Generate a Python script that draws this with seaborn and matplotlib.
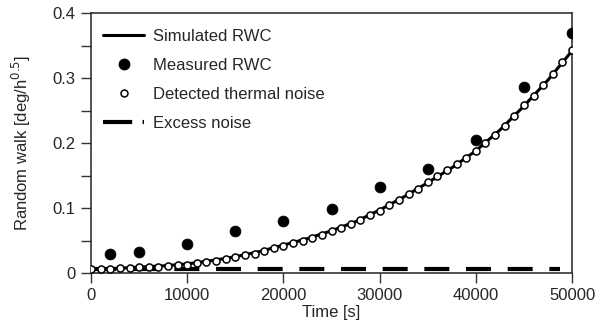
import matplotlib
matplotlib.use("Agg")
import matplotlib.pyplot as plt
import seaborn as sns
import pandas as pd
import numpy as np
from matplotlib.ticker import MultipleLocator
from matplotlib.lines import Line2D

sns.set_style("ticks")
plt.rcParams['font.family'] = ['Liberation Sans', 'DejaVu Sans']

# Data
measured_t = [2000, 5000, 10000, 15000, 20000, 25000, 30000, 35000, 40000, 45000, 50000]
measured_rwc = [0.030, 0.032, 0.045, 0.064, 0.080, 0.098, 0.132, 0.160, 0.205, 0.287, 0.370]

thermal_t = list(range(0, 50001, 1000))
thermal_noise = [0.006, 0.006, 0.006, 0.007, 0.008, 0.009, 0.010, 0.010, 0.011, 0.012,
                 0.013, 0.015, 0.017, 0.019, 0.021, 0.024, 0.027, 0.030, 0.034, 0.038,
                 0.042, 0.046, 0.050, 0.054, 0.059, 0.064, 0.070, 0.076, 0.082, 0.089,
                 0.096, 0.104, 0.112, 0.121, 0.130, 0.140, 0.149, 0.158, 0.167, 0.177,
                 0.187, 0.200, 0.213, 0.227, 0.242, 0.258, 0.273, 0.289, 0.306, 0.324,
                 0.343]

sim_t = [0, 2500, 5000, 7500, 10000, 12500, 15000, 17500, 20000, 22500, 25000,
         27500, 30000, 32500, 35000, 37500, 40000, 42500, 45000, 47500, 50000]
sim_rwc = [0.006, 0.007, 0.009, 0.011, 0.014, 0.019, 0.025, 0.033, 0.043, 0.053, 0.065,
           0.079, 0.097, 0.117, 0.139, 0.162, 0.188, 0.220, 0.257, 0.297, 0.342]

excess_t = [0, 48700]
excess_noise = [0.006, 0.006]

fig = plt.figure(figsize=(5.99, 3.36), dpi=100)
ax = fig.add_axes([0.152, 0.1875, 0.803, 0.7735])

sns.lineplot(x=sim_t, y=sim_rwc, ax=ax, color='black', linewidth=2.2, zorder=2)
sns.lineplot(x=excess_t, y=excess_noise, ax=ax, color='black', linewidth=3,
             zorder=2).lines[-1].set_dashes([6, 4])
sns.scatterplot(x=thermal_t, y=thermal_noise, ax=ax, marker='o', s=26,
                facecolor='white', edgecolor='black', linewidth=1.1, zorder=3)
sns.scatterplot(x=measured_t, y=measured_rwc, ax=ax, marker='o', s=60,
                color='black', edgecolor='black', zorder=4)

ax.set_xlim(0, 50000)
ax.set_ylim(0, 0.4)
ax.xaxis.set_major_locator(MultipleLocator(10000))
ax.yaxis.set_minor_locator(MultipleLocator(0.05))
ax.set_yticks([0, 0.1, 0.2, 0.3, 0.4])
ax.set_yticklabels(['0', '0.1', '0.2', '0.3', '0.4'])
ax.tick_params(axis='both', which='major', labelsize=12, direction='out', length=7,
               width=1, color='#333333', pad=4)
ax.tick_params(axis='y', which='minor', direction='out', length=7, width=1, color='#333333')
for sp in ax.spines.values():
    sp.set_visible(True)
    sp.set_linewidth(1.2)
    sp.set_color('#333333')

ax.set_xlabel('Time [s]', fontsize=12, labelpad=1)
ax.set_ylabel('Random walk [deg/h$^{0.5}$]', fontsize=12, labelpad=14)

handles = [
    Line2D([0], [0], color='black', lw=2.2),
    Line2D([0], [0], color='black', marker='o', linestyle='None', markersize=7.5),
    Line2D([0], [0], color='black', marker='o', markerfacecolor='white', linestyle='None',
           markersize=5, markeredgewidth=1.1),
    Line2D([0], [0], color='black', lw=3, dashes=[7, 2.5]),
]
labels = ['Simulated RWC', 'Measured RWC', 'Detected thermal noise', 'Excess noise']
ax.legend(handles, labels, loc='upper left', frameon=False, fontsize=12,
          handlelength=2.5, labelspacing=0.85, borderaxespad=0.3, handletextpad=0.5,
          bbox_to_anchor=(0.0, 0.985))

fig.savefig('out.png', dpi=100)
